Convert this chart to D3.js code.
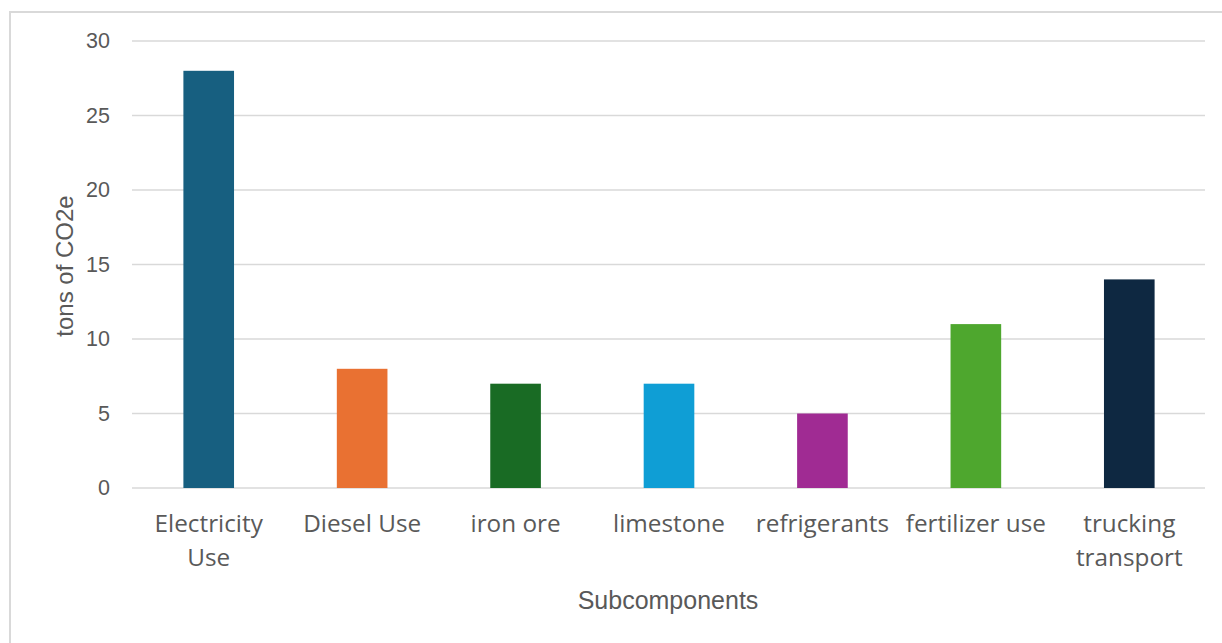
<!DOCTYPE html>
<html><head><meta charset="utf-8">
<script src="https://cdn.jsdelivr.net/npm/d3@7"></script>
<style>body{margin:0;background:#fff;}svg{display:block;}</style>
</head><body>
<script>
const categories = ["Electricity Use","Diesel Use","iron ore","limestone","refrigerants","fertilizer use","trucking transport"];
const labelLines = [["Electricity","Use"],["Diesel Use"],["iron ore"],["limestone"],["refrigerants"],["fertilizer use"],["trucking","transport"]];
const values = [28, 8, 7, 7, 5, 11, 14];
const colors = ["#175f80","#e97132","#196b24","#0f9ed5","#a02b93","#4ea72e","#0e2841"];
const yTicks = [0,5,10,15,20,25,30];

(function(){
const W=1222,H=643;
const svg=d3.select("body").append("svg").attr("width",W).attr("height",H);
svg.append("rect").attr("x",10).attr("y",12).attr("width",1300).attr("height",700)
  .attr("fill","#fff").attr("stroke","#d9d9d9").attr("stroke-width",2);

const pl=132,pr=1206,pt=41,pb=488;
const x=d3.scaleBand().domain(categories).range([pl,pr]).paddingInner(0.67).paddingOuter(0.335);
const y=d3.scaleLinear().domain([0,30]).range([pb,pt]);

const g=svg.append("g");
g.selectAll("line.grid").data(yTicks).join("line")
  .attr("x1",pl).attr("x2",1205).attr("y1",d=>y(d)).attr("y2",d=>y(d))
  .attr("stroke","#d9d9d9").attr("stroke-width",1.5);

const yAxis=d3.axisLeft(y).tickValues(yTicks).tickSize(0).tickPadding(22);
const ya=svg.append("g").attr("transform",`translate(${pl},0)`).call(yAxis);
ya.select(".domain").remove();
ya.selectAll("text").attr("font-family","Liberation Sans, Arial, sans-serif").attr("font-size",21.5).attr("fill","#595959");

g.selectAll("rect.bar").data(values).join("rect")
  .attr("x",(d,i)=>x(categories[i])).attr("width",x.bandwidth())
  .attr("y",d=>y(d)).attr("height",d=>y(0)-y(d))
  .attr("fill",(d,i)=>colors[i]);

const xl=svg.append("g");
categories.forEach((c,i)=>{
  const cx=x(c)+x.bandwidth()/2;
  const t=xl.append("text").attr("x",cx).attr("y",532)
    .attr("text-anchor","middle").attr("font-family","Open Sans, Noto Sans, sans-serif")
    .attr("font-size",24.3).attr("fill","#595959");
  labelLines[i].forEach((l,j)=>t.append("tspan").attr("x",cx).attr("dy",j?34:0).text(l));
});

svg.append("text").attr("x",668).attr("y",609).attr("text-anchor","middle")
  .attr("font-family","Liberation Sans, Arial, sans-serif").attr("font-size",25).attr("fill","#595959").text("Subcomponents");
svg.append("text").attr("transform","translate(73,266) rotate(-90)").attr("text-anchor","middle")
  .attr("font-family","Liberation Sans, Arial, sans-serif").attr("font-size",24).attr("fill","#595959").text("tons of CO2e");
})();
</script>
</body></html>
